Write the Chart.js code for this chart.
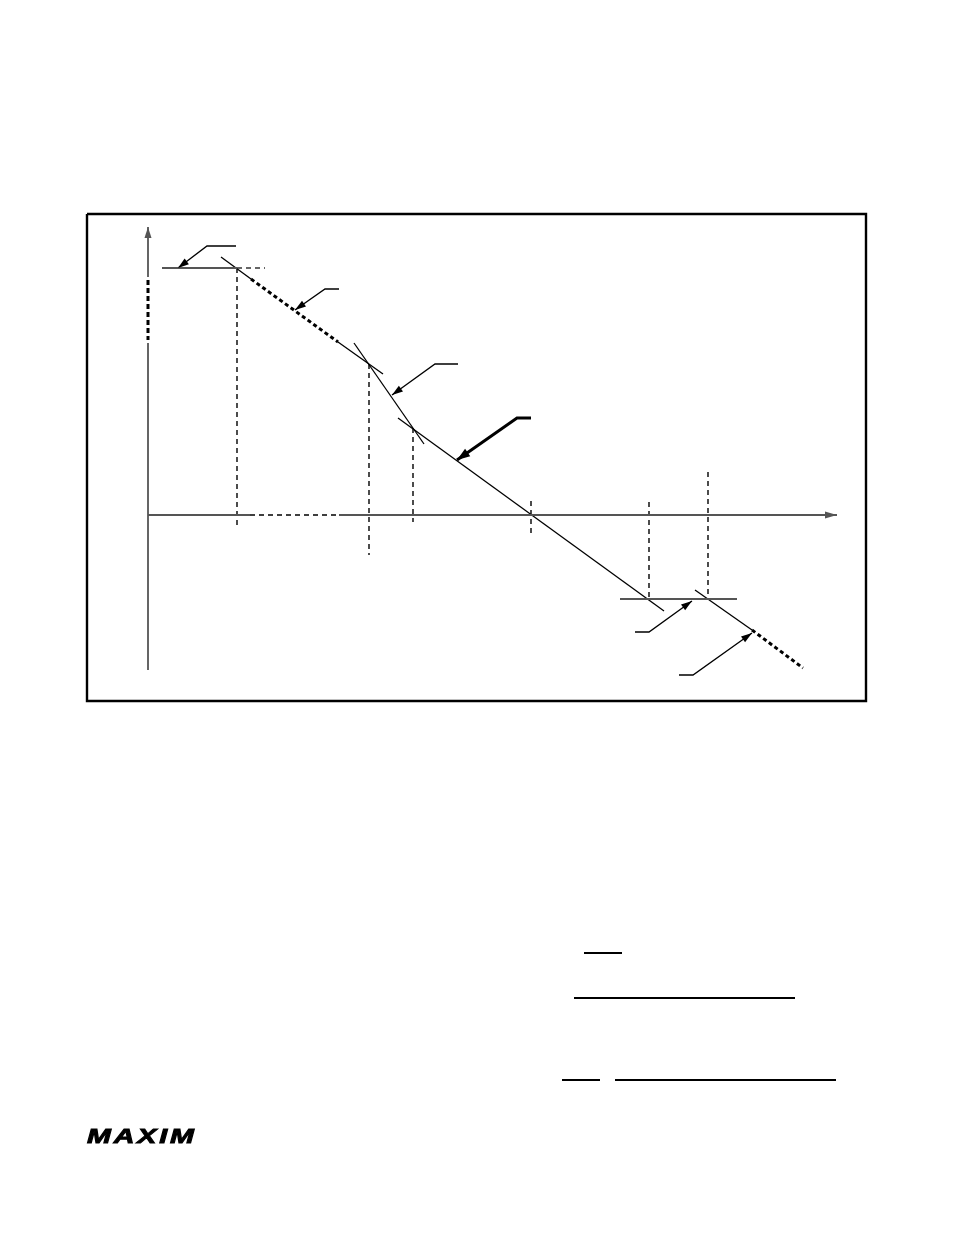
<!DOCTYPE html>
<html>
<head>
<meta charset="utf-8">
<script src="https://cdn.jsdelivr.net/npm/chart.js@4/dist/chart.umd.min.js"></script>
<style>
  html, body { margin: 0; padding: 0; background: #ffffff; }
  #wrap { position: absolute; left: 0; top: 0; width: 954px; height: 1235px; }
  .bar { position: absolute; height: 2px; background: #000; }
  #logo { position: absolute; left: 87px; top: 1124px; font-family: "Liberation Sans", Arial, sans-serif;
          font-weight: 700; font-style: italic; font-size: 20px; letter-spacing: 2px; line-height: 24px;
          transform: scaleX(1.43); transform-origin: left top; color: #000;
          -webkit-text-stroke: 0.9px #000; }
</style>
</head>
<body>
<div id="wrap"><canvas id="c"></canvas></div>
<div class="bar" style="left:584px; top:952px; width:38px;"></div>
<div class="bar" style="left:574px; top:997px; width:221px;"></div>
<div class="bar" style="left:562px; top:1079px; width:38px;"></div>
<div class="bar" style="left:615px; top:1079px; width:221px;"></div>
<div id="logo">MAXIM</div>
<script>
// Diagram coordinates: origin at the axes' intersection, x to the right, y upward.
const frameBox      = [[-61, 301], [718, 301], [718, -186], [-61, -186], [-61, 301]];
const yAxisTop      = [[0, 238], [0, 288]];
const yAxisBreak    = [[0, 235], [0, 175]];
const yAxisLower    = [[0, 172], [0, -155]];
const xAxisLeft     = [[0, 0], [102, 0]];
const xAxisBreak    = [[102, 0], [191, 0]];
const xAxisRight    = [[191, 0], [689, 0]];
const upperLevel    = [[14, 247], [89, 247]];
const upperLevelExt = [[89, 247], [117, 247]];
const lowerLevel    = [[472, -84], [589, -84]];
const slope1Start   = [[73, 258], [103, 236]];
const slope1Dashed  = [[103, 236], [190, 173]];
const slope1End     = [[190, 173], [235, 141]];
const slope2        = [[206, 172], [276, 71]];
const slope3        = [[250, 97], [516, -96]];
const slope4        = [[547, -75], [604, -115]];
const slope4Dashed  = [[604, -115], [655, -153]];
const dropLines = [
  [[89, 247], [89, -10]],
  [[221, 151], [221, -40]],
  [[265, 87], [265, -7]],
  [[383, 14], [383, -21]],
  [[501, 13], [501, -84]],
  [[560, 43], [560, -84]]
];
const leader1 = [[88, 269], [59, 269], [30, 247]];
const leader2 = [[191, 226], [177, 226], [147, 205]];
const leader3 = [[310, 151], [287, 151], [244, 120]];
const leader4 = [[383, 97], [369, 97], [309, 55]];
const leader5 = [[487, -117], [501, -117], [544, -86]];
const leader6 = [[531, -160], [545, -160], [604, -118]];

const pts = a => a.map(p => ({x: p[0], y: p[1]}));
const AX = '#555555';
const INK = '#000000';

function ds(arr, color, width, dash, arrow) {
  return {
    data: pts(arr), showLine: true, pointRadius: 0, borderColor: color, backgroundColor: color,
    borderWidth: width, borderDash: dash || [], fill: false, tension: 0, clip: false,
    borderCapStyle: 'butt', arrow: arrow || null
  };
}

const datasets = [
  ds(frameBox, '#000', 2.4),
  ds(yAxisTop, AX, 1.8, null, {len: 11, w: 7}),
  ds(yAxisBreak, INK, 3, [5, 3]),
  ds(yAxisLower, AX, 1.8),
  ds(xAxisLeft, AX, 1.8),
  ds(xAxisBreak, INK, 1.4, [5, 4]),
  ds(xAxisRight, AX, 1.8, null, {len: 12, w: 7}),
  ds(upperLevel, AX, 1.8),
  ds(upperLevelExt, '#333', 1.4, [5, 4]),
  ds(lowerLevel, AX, 1.8),
  ds(slope1Start, INK, 1.3),
  ds(slope1Dashed, INK, 3, [4, 3]),
  ds(slope1End, INK, 1.3),
  ds(slope2, INK, 1.3),
  ds(slope3, INK, 1.3),
  ds(slope4, INK, 1.3),
  ds(slope4Dashed, INK, 3, [4, 3]),
  ...dropLines.map(d => ds(d, INK, 1.4, [5, 4])),
  ds(leader1, INK, 1.3, null, {len: 11, w: 7}),
  ds(leader2, INK, 1.3, null, {len: 11, w: 7}),
  ds(leader3, INK, 1.3, null, {len: 11, w: 7}),
  ds(leader4, INK, 3, null, {len: 13, w: 9}),
  ds(leader5, INK, 1.3, null, {len: 11, w: 7}),
  ds(leader6, INK, 1.3, null, {len: 11, w: 7})
];

const arrowPlugin = {
  id: 'arrows',
  afterDatasetsDraw(chart) {
    const ctx = chart.ctx;
    const xs = chart.scales.x, ys = chart.scales.y;
    chart.data.datasets.forEach(d => {
      if (!d.arrow) return;
      const n = d.data.length;
      const a = d.data[n - 2], b = d.data[n - 1];
      const x1 = xs.getPixelForValue(a.x), y1 = ys.getPixelForValue(a.y);
      const x2 = xs.getPixelForValue(b.x), y2 = ys.getPixelForValue(b.y);
      const ang = Math.atan2(y2 - y1, x2 - x1);
      const L = d.arrow.len, W = d.arrow.w / 2;
      const bx = x2 - L * Math.cos(ang), by = y2 - L * Math.sin(ang);
      ctx.save();
      ctx.fillStyle = d.borderColor;
      ctx.beginPath();
      ctx.moveTo(x2, y2);
      ctx.lineTo(bx + W * Math.sin(ang), by - W * Math.cos(ang));
      ctx.lineTo(bx - W * Math.sin(ang), by + W * Math.cos(ang));
      ctx.closePath();
      ctx.fill();
      ctx.restore();
    });
  }
};

new Chart(document.getElementById('c'), {
  type: 'scatter',
  data: { datasets },
  options: {
    responsive: true, maintainAspectRatio: false, animation: false, devicePixelRatio: 1,
    layout: { padding: 0 },
    plugins: { legend: { display: false }, tooltip: { enabled: false } },
    events: [],
    scales: {
      x: { type: 'linear', min: -148, max: 806, display: false },
      y: { type: 'linear', min: -720, max: 515, display: false }
    }
  },
  plugins: [arrowPlugin]
});
</script>
</body>
</html>
